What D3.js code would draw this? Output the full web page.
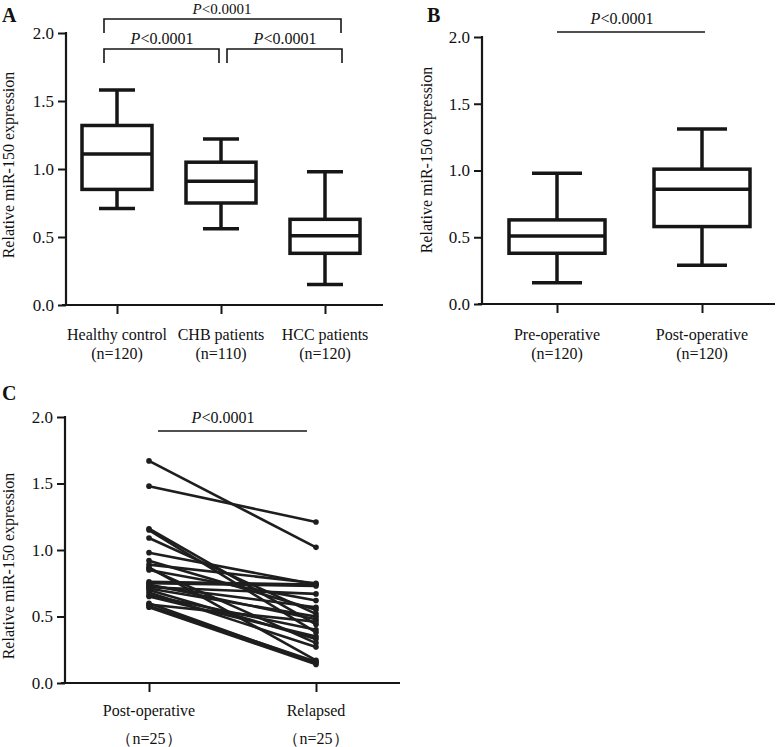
<!DOCTYPE html>
<html><head><meta charset="utf-8">
<script src="https://cdn.jsdelivr.net/npm/d3@7"></script>
<style>body{margin:0;background:#fff}svg{display:block}text{font-family:"Liberation Serif","Times New Roman",serif;fill:#111}</style>
</head><body>
<script>
// ---- data ----
const yTicks = [0.0, 0.5, 1.0, 1.5, 2.0];
const catsA = ["Healthy control", "CHB patients", "HCC patients"];
const nA = ["(n=120)", "(n=110)", "(n=120)"];
const whiskLowA = [0.71, 0.56, 0.15];
const q1A = [0.85, 0.75, 0.38];
const medA = [1.11, 0.91, 0.51];
const q3A = [1.32, 1.05, 0.63];
const whiskHighA = [1.58, 1.22, 0.98];

const catsB = ["Pre-operative", "Post-operative"];
const nB = ["(n=120)", "(n=120)"];
const whiskLowB = [0.16, 0.29];
const q1B = [0.38, 0.58];
const medB = [0.51, 0.86];
const q3B = [0.63, 1.01];
const whiskHighB = [0.98, 1.31];

const catsC = ["Post-operative", "Relapsed"];
const nC = ["（n=25）", "（n=25）"];
const postC = [1.67, 1.48, 1.16, 1.15, 1.09, 0.98, 0.92, 0.89, 0.87, 0.86, 0.85, 0.76, 0.75, 0.74, 0.73, 0.72, 0.71, 0.70, 0.68, 0.66, 0.65, 0.60, 0.59, 0.58, 0.57];
const relapsedC = [1.02, 1.21, 0.44, 0.38, 0.52, 0.74, 0.55, 0.75, 0.17, 0.30, 0.62, 0.74, 0.73, 0.48, 0.57, 0.67, 0.50, 0.33, 0.27, 0.40, 0.35, 0.15, 0.46, 0.16, 0.14];
const pText = "<0.0001";

const svg = d3.select("body").append("svg").attr("width", 778).attr("height", 747);
const ink = "#161616";
const FS = 16;

function frame(o) {
  const g = svg.append("g");
  const y = d3.scaleLinear().domain([0, 2]).range([o.y0, o.y2]);
  const x = d3.scalePoint().domain(o.cats).range(o.xr).padding(0.5);
  const ya = g.append("g").attr("transform", `translate(${o.ax},0)`)
    .call(d3.axisLeft(y).tickValues(yTicks).tickFormat(d3.format(".1f")).tickSize(8).tickPadding(4).tickSizeOuter(0));
  ya.select(".domain").remove();
  ya.selectAll("line").attr("stroke", ink).attr("stroke-width", 2);
  ya.selectAll("text").attr("font-size", 17).style("font-family", "Liberation Serif").attr("fill", ink);
  g.append("line").attr("x1", o.ax).attr("x2", o.ax).attr("y1", o.y2 - 1).attr("y2", o.y0 + 1).attr("stroke", ink).attr("stroke-width", 2.2);
  const xa = g.append("g").attr("transform", `translate(0,${o.y0})`)
    .call(d3.axisBottom(x).tickSize(9).tickFormat(""));
  xa.select(".domain").remove();
  xa.selectAll("line").attr("stroke", ink).attr("stroke-width", 2);
  g.append("line").attr("x1", o.ax - 4).attr("x2", o.xend).attr("y1", o.y0).attr("y2", o.y0).attr("stroke", ink).attr("stroke-width", 2.2);
  o.cats.forEach((c, i) => {
    g.append("text").attr("x", x(c)).attr("y", o.l1).attr("text-anchor", "middle").attr("font-size", FS).text(c);
    g.append("text").attr("x", x(c)).attr("y", o.l2).attr("text-anchor", "middle").attr("font-size", FS).text(o.ns[i]);
  });
  g.append("text").attr("transform", `translate(${o.ylx},${o.yly}) rotate(-90)`).attr("text-anchor", "middle")
    .attr("font-size", 16).text("Relative miR-150 expression");
  g.append("text").attr("x", o.lx).attr("y", o.ly).attr("font-size", 20).attr("font-weight", "bold").text(o.letter);
  return {g, x, y};
}

function ptext(g, cx, by, fs) {
  const t = g.append("text").attr("x", cx).attr("y", by).attr("text-anchor", "middle").attr("font-size", fs || 16);
  t.append("tspan").attr("font-style", "italic").text("P");
  t.append("tspan").text(pText);
}

function boxes(p, cats, lo, q1, md, q3, hi, bw, cw) {
  cats.forEach((c, i) => {
    const cx = p.x(c);
    const g = p.g.append("g").attr("stroke", ink).attr("stroke-width", 3.5).attr("fill", "none");
    g.append("line").attr("x1", cx).attr("x2", cx).attr("y1", p.y(hi[i])).attr("y2", p.y(q3[i]));
    g.append("line").attr("x1", cx).attr("x2", cx).attr("y1", p.y(q1[i])).attr("y2", p.y(lo[i]));
    g.append("line").attr("x1", cx - cw / 2).attr("x2", cx + cw / 2).attr("y1", p.y(hi[i])).attr("y2", p.y(hi[i]));
    g.append("line").attr("x1", cx - cw / 2).attr("x2", cx + cw / 2).attr("y1", p.y(lo[i])).attr("y2", p.y(lo[i]));
    g.append("rect").attr("x", cx - bw / 2).attr("y", p.y(q3[i])).attr("width", bw).attr("height", p.y(q1[i]) - p.y(q3[i])).attr("fill", "#fff");
    g.append("line").attr("x1", cx - bw / 2).attr("x2", cx + bw / 2).attr("y1", p.y(md[i])).attr("y2", p.y(md[i]));
  });
}

// Panel A
const A = frame({cats: catsA, ns: nA, y0: 305, y2: 33, xr: [65, 377], ax: 66, xend: 383, l1: 340, l2: 359,
  ylx: 14, yly: 165, lx: 2, ly: 22, letter: "A"});
boxes(A, catsA, whiskLowA, q1A, medA, q3A, whiskHighA, 70, 36);
function bracket(g, x1, x2, ytop, ybot) {
  g.append("path").attr("d", `M${x1},${ybot}V${ytop}H${x2}V${ybot}`).attr("fill", "none").attr("stroke", ink).attr("stroke-width", 1.6);
}
bracket(A.g, 104, 341, 19, 33);
bracket(A.g, 104, 219, 49, 63);
bracket(A.g, 227, 342, 49, 63);
ptext(A.g, 222, 14, 15);
ptext(A.g, 162, 44);
ptext(A.g, 285, 44);

// Panel B
const B = frame({cats: catsB, ns: nB, y0: 304, y2: 37, xr: [484.5, 774.5], ax: 482, xend: 775, l1: 340, l2: 359,
  ylx: 432, yly: 160, lx: 427, ly: 22, letter: "B"});
boxes(B, catsB, whiskLowB, q1B, medB, q3B, whiskHighB, 96, 50);
B.g.append("line").attr("x1", 557).attr("x2", 705).attr("y1", 32).attr("y2", 32).attr("stroke", ink).attr("stroke-width", 1.4);
ptext(B.g, 622, 24);

// Panel C
const C = frame({cats: catsC, ns: nC, y0: 683, y2: 417, xr: [65.5, 399.5], ax: 65, xend: 400, l1: 716, l2: 744,
  ylx: 14, yly: 566, lx: 2, ly: 400, letter: "C"});
const pairs = postC.map((v, i) => [v, relapsedC[i]]);
const lineGen = d3.line().x((d, j) => C.x(catsC[j])).y(d => C.y(d));
C.g.append("g").selectAll("path").data(pairs).join("path")
  .attr("d", lineGen).attr("fill", "none").attr("stroke", "#1e1e1e").attr("stroke-width", 2.6);
pairs.forEach(p => {
  p.forEach((v, j) => {
    C.g.append("circle").attr("cx", C.x(catsC[j])).attr("cy", C.y(v)).attr("r", 2.8).attr("fill", "#1e1e1e");
  });
});
C.g.append("line").attr("x1", 158).attr("x2", 307).attr("y1", 431).attr("y2", 431).attr("stroke", ink).attr("stroke-width", 1.4);
ptext(C.g, 223, 423);
</script>
</body></html>
